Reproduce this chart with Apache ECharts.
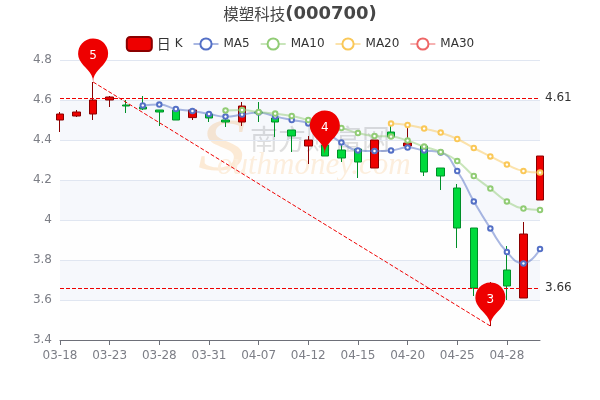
<!DOCTYPE html>
<html><head><meta charset="utf-8">
<style>html,body{margin:0;padding:0;background:#fff}#c{width:600px;height:400px}</style>
<script src="https://cdn.jsdelivr.net/npm/echarts@6/dist/echarts.min.js"></script>
</head><body><div id="c"></div>
<script>
const dates=['03-18','03-21','03-22','03-23','03-24','03-25','03-28','03-29','03-30','03-31','04-01','04-06','04-07','04-08','04-11','04-12','04-13','04-14','04-15','04-18','04-19','04-20','04-21','04-22','04-25','04-26','04-27','04-28','04-29','05-05'];
// open, close, low, high
const kline=[
[4.50,4.53,4.44,4.54],[4.52,4.54,4.515,4.55],[4.53,4.60,4.50,4.69],[4.60,4.615,4.565,4.62],
[4.575,4.57,4.535,4.60],[4.565,4.555,4.55,4.62],[4.55,4.54,4.47,4.55],[4.55,4.50,4.50,4.55],
[4.512,4.55,4.50,4.55],[4.53,4.51,4.49,4.54],[4.50,4.49,4.465,4.52],[4.49,4.57,4.47,4.59],
[4.54,4.535,4.49,4.59],[4.51,4.49,4.415,4.52],[4.45,4.42,4.34,4.45],[4.37,4.40,4.28,4.42],
[4.375,4.32,4.32,4.42],[4.35,4.31,4.29,4.375],[4.355,4.29,4.21,4.36],[4.26,4.40,4.26,4.40],
[4.44,4.415,4.41,4.48],[4.37,4.385,4.37,4.46],[4.37,4.24,4.22,4.37],[4.26,4.22,4.15,4.26],
[4.16,3.96,3.86,4.18],[3.96,3.66,3.62,3.96],[3.62,3.68,3.47,3.69],[3.75,3.67,3.60,3.87],
[3.61,3.93,3.61,3.99],[4.10,4.32,4.10,4.32]];
const ma5=['-','-','-','-','-',4.573,4.577,4.555,4.545,4.53,4.517,4.527,4.538,4.518,4.50,4.483,4.44,4.388,4.348,4.345,4.348,4.362,4.348,4.338,4.245,4.093,3.958,3.84,3.783,3.855];
const ma10=['-','-','-','-','-','-','-','-','-','-',4.548,4.55,4.54,4.532,4.52,4.50,4.48,4.46,4.435,4.42,4.417,4.397,4.367,4.34,4.295,4.22,4.157,4.093,4.057,4.05];
const ma20=['-','-','-','-','-','-','-','-','-','-','-','-','-','-','-','-','-','-','-','-',4.482,4.475,4.457,4.437,4.405,4.36,4.318,4.277,4.245,4.237];
const ma30=[];
const legendNames=['日K','MA5','MA10','MA20','MA30'];
const pins=[{idx:2,y:4.69,label:'5'},{idx:16,y:4.33,label:'4'},{idx:26,y:3.47,label:'3'}];
const levels=[4.61,3.66];
const titleName='模塑科技';
const titleCode='(000700)';
const palette=['#ee0000','#5470c6','#91cc75','#fac858','#ee6666'];

const ma=(name,data,i)=>({name,type:'line',data,smooth:true,symbol:'emptyCircle',symbolSize:4.5,showSymbol:true,
  itemStyle:{color:palette[i],borderWidth:2},lineStyle:{width:2,opacity:.5,color:palette[i]}});
const chart=echarts.init(document.getElementById('c'),null,{renderer:'canvas'});
chart.setOption({
 animation:false,
 color:palette,
 textStyle:{fontFamily:'"DejaVu Sans"'},
 title:{text:'{a|'+titleName+'}{b|'+titleCode+'}',left:'center',top:0,
   textStyle:{rich:{a:{fontSize:15.5,color:'#464646',fontWeight:'normal',fontFamily:'"Noto Sans CJK SC"'},
                    b:{fontSize:18,color:'#464646',fontWeight:'bold',fontFamily:'"DejaVu Sans"'}}}},
 legend:{data:legendNames,top:31,left:'center',itemGap:10,
   formatter:n=>n==='日K'?'{c|日}{d| K}':n,
   textStyle:{fontSize:12,color:'#333',fontFamily:'"DejaVu Sans"',
     rich:{c:{fontSize:14,color:'#333',fontFamily:'"Noto Sans CJK SC"'},d:{fontSize:12,color:'#333',fontFamily:'"DejaVu Sans"'}}}},
 grid:{left:60,right:60,top:60,bottom:60},
 graphic:[
  {type:'text',z:-1,left:198,top:114,scaleX:1.3,style:{text:'S',font:'italic 74px "Liberation Serif"',fill:'#fde6cc'}},
  {type:'text',z:-1,left:250,top:125,style:{text:'南方财富网',font:'28px "Noto Sans CJK SC"',fill:'#d8d8d8'}},
  {type:'text',z:-1,left:217,top:150,style:{text:'outhmoney.com',font:'italic 31px "Liberation Serif"',fill:'#fdebd6'}}
 ],
 xAxis:{type:'category',data:dates,boundaryGap:false,axisLine:{lineStyle:{color:'#6E7079'}},
   axisTick:{interval:2},axisLabel:{interval:2,color:'#7c7e86',fontSize:12,margin:10},splitLine:{show:false}},
 yAxis:{type:'value',min:3.4,max:4.8,interval:.2,axisLine:{show:false},axisTick:{show:false},
   axisLabel:{color:'#7c7e86',fontSize:12},splitLine:{show:true,lineStyle:{color:'#E0E6F1'}},
   splitArea:{show:true,areaStyle:{color:['rgba(250,250,250,0.2)','rgba(210,219,238,0.2)']}}},
 series:[
  {name:'日K',type:'candlestick',data:kline,barWidth:8,
   itemStyle:{color:'#ee0000',color0:'#00da3c',borderColor:'#8A0000',borderColor0:'#008F28'},
   markPoint:{symbol:'pin',symbolSize:50,itemStyle:{color:'#ee0000'},label:{color:'#fff',fontSize:12,formatter:p=>p.name},
     data:pins.map(p=>({name:p.label,coord:[dates[p.idx],p.y]}))},
   markLine:{symbol:'none',silent:true,
     lineStyle:{color:'#ee0000',type:'dashed',width:1},
     label:{position:'end',color:'#333',fontSize:12},
     data:[
      ...levels.map(v=>[{coord:[dates[0],v]},{coord:[dates[29],v],value:v}]),
      [{coord:[dates[pins[0].idx],pins[0].y]},{coord:[dates[pins[2].idx],pins[2].y],label:{show:false}}]
     ]}
  },
  ma('MA5',ma5,1),ma('MA10',ma10,2),ma('MA20',ma20,3),ma('MA30',ma30,4)
 ]
});
</script></body></html>
